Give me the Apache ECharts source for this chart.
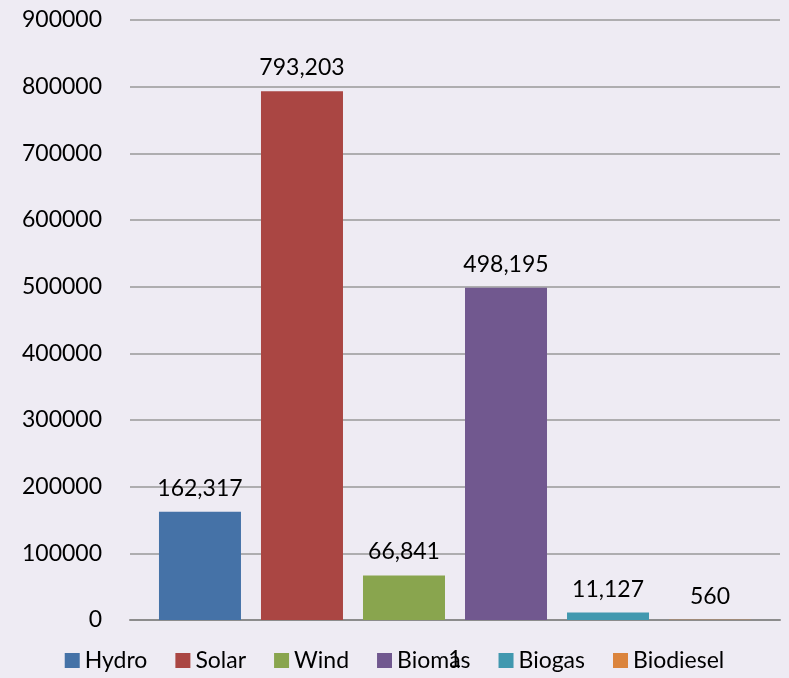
<!DOCTYPE html>
<html>
<head>
<meta charset="utf-8">
<script src="https://cdn.jsdelivr.net/npm/echarts@6/dist/echarts.min.js"></script>
<style>
html,body{margin:0;padding:0;background:#EEEBF3;}
#chart{width:789px;height:678px;}
</style>
</head>
<body>
<div id="chart"></div>
<script>
const categories = ['1'];
const seriesNames = ['Hydro', 'Solar', 'Wind', 'Biomas', 'Biogas', 'Biodiesel'];
const seriesValues = [162317, 793203, 66841, 498195, 11127, 560];
const seriesColors = ['#4572A7', '#AA4643', '#89A54E', '#71588F', '#4198AF', '#DB843D'];
const yTicks = { min: 0, max: 900000, interval: 100000 };

const FONT = 'Lato';
const FS = 23;
const chart = echarts.init(document.getElementById('chart'));
chart.setOption({
  backgroundColor: '#EEEBF3',
  animation: false,
  textStyle: { fontFamily: FONT },
  grid: { left: 130, right: 9, top: 20, bottom: 58, containLabel: false },
  legend: {
    bottom: 1,
    left: 'center',
    itemWidth: 15,
    itemHeight: 15,
    itemGap: 28,
    icon: 'rect',
    textStyle: { fontFamily: FONT, fontSize: FS, color: '#000', padding: [0, 0, 0, 0] },
    data: seriesNames
  },
  xAxis: {
    type: 'category',
    data: categories,
    axisLine: { lineStyle: { color: '#8c8c8c', width: 2 } },
    axisTick: { show: false },
    axisLabel: { fontFamily: FONT, fontSize: FS, color: '#000', margin: 28 }
  },
  yAxis: {
    type: 'value',
    min: yTicks.min,
    max: yTicks.max,
    interval: yTicks.interval,
    axisLine: { show: false },
    axisTick: { show: false },
    splitLine: { lineStyle: { color: '#999999', width: 1.5 } },
    axisLabel: { fontFamily: FONT, fontSize: FS, color: '#000', margin: 28, formatter: v => String(v) }
  },
  series: seriesNames.map((name, i) => ({
    name: name,
    type: 'bar',
    data: [seriesValues[i]],
    barWidth: 82,
    barGap: '24.4%',
    itemStyle: { color: seriesColors[i] },
    label: {
      show: true,
      position: 'top',
      distance: 12,
      fontFamily: FONT,
      fontSize: FS,
      color: '#000',
      formatter: p => p.value.toLocaleString('en-US')
    }
  }))
});
</script>
</body>
</html>
